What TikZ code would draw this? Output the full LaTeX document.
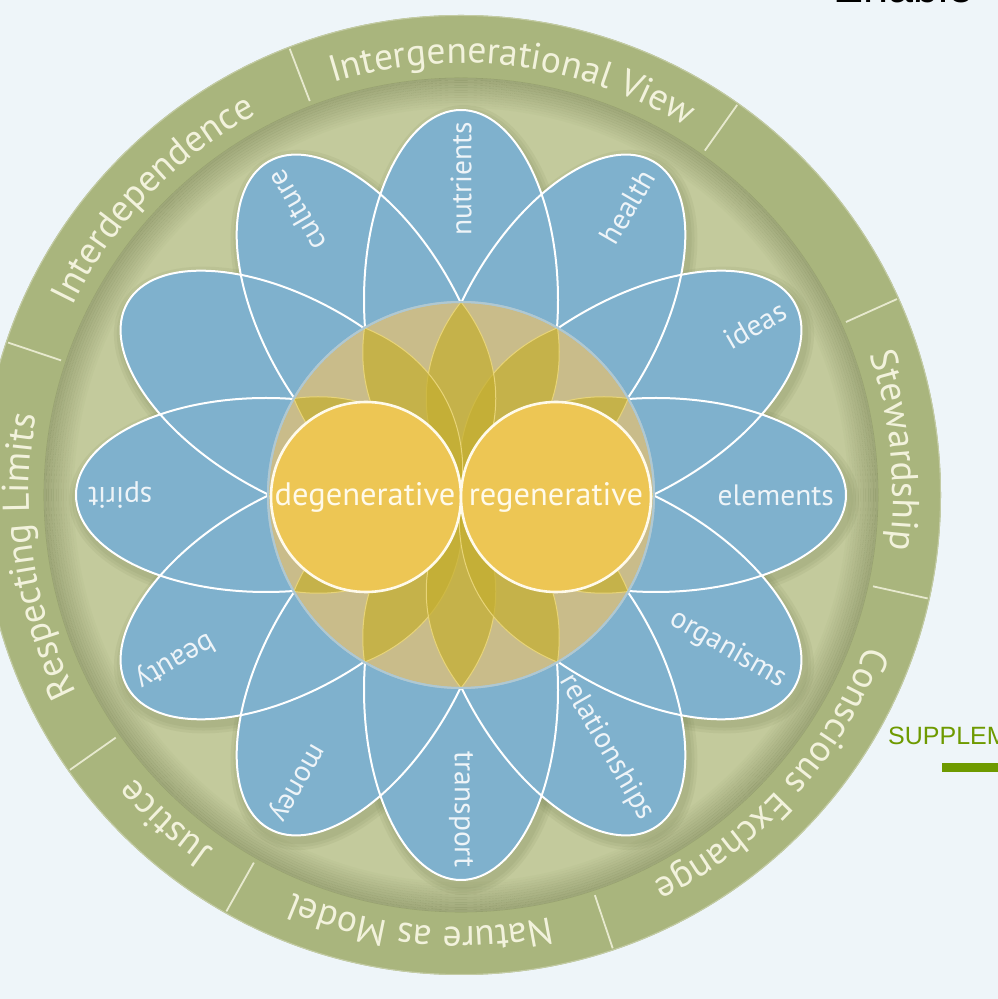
\documentclass[tikz,border=0pt]{standalone}
\usepackage{fontspec}
\setmainfont{PT Sans}
\newfontfamily\arialf{Liberation Sans}
\usetikzlibrary{decorations.text}
\definecolor{bg}{HTML}{EEF5F9}
\definecolor{ringdark}{HTML}{A9B57D}
\definecolor{ringlight}{HTML}{C3CA9C}
\definecolor{petalblue}{HTML}{7FB1CD}
\definecolor{tancol}{HTML}{C9BC8A}
\definecolor{tanedge}{HTML}{AFC8D2}
\definecolor{leaf}{HTML}{C4AE30}
\definecolor{leafedge}{HTML}{E8D478}
\definecolor{sun}{HTML}{EDC654}
\definecolor{sunedge}{HTML}{FFFAEA}
\definecolor{ringtxt}{HTML}{F2F2DC}
\definecolor{petaltxt}{HTML}{EEF4F8}
\definecolor{suppl}{HTML}{6E9A00}
\definecolor{shadowcol}{HTML}{5F6B3C}
\newcommand\ringfont{\fontsize{37.5}{37.5}\selectfont}
\newcommand\ringlabel[3]{\path[decorate, decoration={text along path, text align=center, text color=ringtxt, text={|\ringfont|#3}}] ([shift={(#1:432)}]C) arc[start angle=#1, end angle=#2, radius=432];}
\begin{document}
\begin{tikzpicture}[x=1pt,y=1pt,
  petalfill/.style={fill=petalblue},
  petaledge/.style={draw=white, line width=2},
  petalshadow/.style={fill=shadowcol, opacity=0.08},
  petaltext/.style={text=petaltxt, font=\fontsize{29.5}{29.5}\selectfont, inner sep=0pt},
  sepline/.style={draw=ringtxt!85!ringdark, line width=1.8},
  leafshape/.style={fill=leaf, fill opacity=0.7, draw=leafedge, line width=1},
  sunshape/.style={fill=sun, draw=sunedge, line width=2.6},
  suntext/.style={text=sunedge, font=\fontsize{32.5}{32.5}\selectfont, inner sep=0pt}]
\useasboundingbox (0,0) rectangle (998,999);
\clip (0,0) rectangle (998,999);
\fill[bg] (0,0) rectangle (998,999);
\coordinate (C) at (461,504);

% rings
\fill[ringdark] (C) circle[radius=480];
\draw[ringdark!70!white, line width=1] (C) circle[radius=479.5];
\fill[ringlight] (C) circle[radius=417];
\foreach \i in {0,...,11}{
  \pgfmathsetmacro\op{0.03*(12-\i)}
  \draw[shadowcol, opacity=\op, line width=2.6] (C) circle[radius=416-\i*2.5];
}
% separators
\foreach \a in {111,54.7,24.2,-12.5,-71.5,-119.4,-144.9,161.4}
  \draw[sepline] ([shift={(\a:422)}]C) -- ([shift={(\a:478)}]C);
% ring labels
\ringlabel{161.4}{111}{Interdependence}
\ringlabel{111}{54.7}{Intergenerational View}
\ringlabel{24.2}{-12.5}{Stewardship}
\ringlabel{-12.5}{-71.5}{Conscious Exchange}
\ringlabel{-71.5}{-119.4}{Nature as Model}
\ringlabel{-119.4}{-144.9}{Justice}
\ringlabel{-144.9}{-198.6}{Respecting Limits}

% petal shadows
\foreach \a in {0,30,...,330}{
  \begin{scope}[shift={(464,499)}, rotate=\a]
    \fill[petalshadow] (196,0) ellipse[x radius=199, y radius=106];
    \fill[petalshadow] (196,0) ellipse[x radius=196, y radius=103];
    \fill[petalshadow] (196,0) ellipse[x radius=193, y radius=100];
  \end{scope}
}
% petal fills
\foreach \a in {0,30,...,330}{
  \begin{scope}[shift={(C)}, rotate=\a]
    \fill[petalfill] (195,0) ellipse[x radius=190, y radius=97];
  \end{scope}
}
% petal outlines
\foreach \a in {0,30,...,330}{
  \begin{scope}[shift={(C)}, rotate=\a]
    \draw[petaledge] (195,0) ellipse[x radius=190, y radius=97];
  \end{scope}
}
% petal labels
\foreach \a/\t [count=\k] in {90/nutrients,60/health,30/ideas,0/elements,-30/organisms,-60/relationships,-90/transport,-120/money,-150/beauty,180/spirit,120/culture}
  \node[petaltext, rotate=\a, anchor=east] (p\k) at ([shift={(\a:373)}]C) {\t};

% center disc
\filldraw[fill=tancol, draw=tanedge, line width=2] (C) circle[radius=193];
\foreach \a in {0,30,...,330}{
  \begin{scope}[shift={(C)}, rotate=\a]
    \path[leafshape] (0,0) to[bend left=38] (193,0) to[bend left=38] (0,0) -- cycle;
  \end{scope}
}
\draw[tanedge, line width=2] (C) circle[radius=193];

% yellow circles
\filldraw[sunshape] (366,502) circle[radius=95];
\filldraw[sunshape] (556,502) circle[radius=95];
\node[suntext] (deg) at (365,502) {degenerative};
\node[suntext] (reg) at (556,502) {regenerative};

% page remnants
\node[anchor=base west, inner sep=0pt, font=\arialf\fontsize{45}{45}\selectfont, text=black] (enable) at (833,996) {Enable};
\node[anchor=base west, inner sep=0pt, font=\arialf\fontsize{25}{25}\selectfont, text=suppl] (supp) at (888,254) {SUPPLEM};
\fill[suppl] (942,227) rectangle (998,236);
\end{tikzpicture}
\end{document}
